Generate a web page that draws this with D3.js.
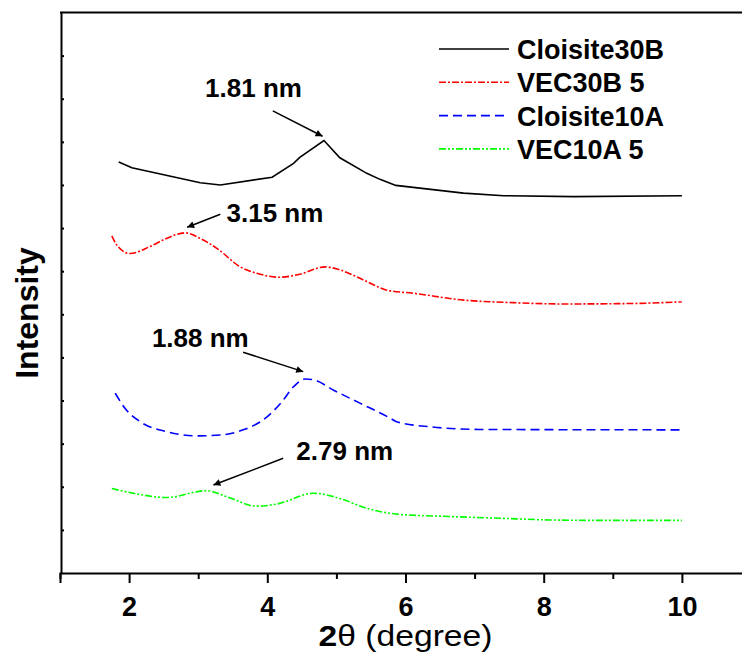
<!DOCTYPE html>
<html>
<head>
<meta charset="utf-8">
<script src="https://cdn.jsdelivr.net/npm/d3@7"></script>
<style>
  html, body { margin: 0; padding: 0; background: #fff; }
  svg { display: block; font-family: "Liberation Sans", Arial, sans-serif; }
</style>
</head>
<body>
<svg id="chart" width="742" height="653"></svg>
<script>
// ---- Data ----
const seriesNames = ["Cloisite30B", "VEC30B 5", "Cloisite10A", "VEC10A 5"];
const seriesColors = ["#000000", "#ff0000", "#0000ff", "#00ff00"];
const seriesDash = ["none", "7,2,2,2", "9,5", "7,2,2,2,2,2"];

const cloisite30B_x = [1.85, 2.04, 3.03, 3.32, 4.07, 4.38, 4.47, 4.82, 5.05, 5.44, 5.63, 5.86, 6.84, 7.42, 8.43, 10.0];
const cloisite30B_y = [9.53, 9.40, 9.05, 9.00, 9.18, 9.50, 9.64, 10.03, 9.63, 9.27, 9.13, 8.99, 8.81, 8.75, 8.73, 8.75];

const vec30B_x = [1.75, 1.82, 2.01, 2.30, 2.54, 2.81, 3.03, 3.27, 3.61, 3.85, 4.18, 4.47, 4.84, 5.05, 5.44, 5.73, 6.11, 6.84, 7.56, 8.28, 9.25, 10.0];
const vec30B_y = [7.82, 7.61, 7.41, 7.57, 7.76, 7.89, 7.76, 7.53, 7.10, 6.95, 6.86, 6.93, 7.10, 7.03, 6.76, 6.56, 6.49, 6.33, 6.27, 6.24, 6.25, 6.29];

const cloisite10A_x = [1.80, 1.94, 2.16, 2.54, 2.98, 3.32, 3.65, 3.94, 4.21, 4.38, 4.55, 4.67, 4.96, 5.34, 5.78, 5.87, 6.36, 7.08, 10.0];
const cloisite10A_y = [4.17, 3.82, 3.51, 3.28, 3.18, 3.20, 3.32, 3.55, 3.97, 4.32, 4.50, 4.48, 4.24, 3.94, 3.59, 3.51, 3.39, 3.33, 3.32];

const vec10A_x = [1.75, 2.06, 2.54, 3.12, 3.41, 3.85, 4.14, 4.67, 5.05, 5.44, 5.92, 6.64, 7.37, 8.09, 8.82, 10.0];
const vec10A_y = [1.96, 1.85, 1.75, 1.91, 1.77, 1.55, 1.60, 1.85, 1.73, 1.50, 1.36, 1.31, 1.27, 1.23, 1.22, 1.22];

const xMajorTicks = [2, 4, 6, 8, 10];
const xMinorTicks = [1, 3, 5, 7, 9, 11];
const yTicks = [1, 2, 3, 4, 5, 6, 7, 8, 9, 10, 11, 12];

// annotations: label, text anchor (x,y), arrow start (x,y), arrow tip (x,y)
const annLabels = ["1.81 nm", "3.15 nm", "1.88 nm", "2.79 nm"];
const annTextX = [3.10, 3.41, 2.33, 4.42];
const annTextY = [11.05, 8.14, 5.25, 2.62];
const annFromX = [4.08, 3.32, 3.65, 4.23];
const annFromY = [10.72, 8.32, 5.12, 2.66];
const annToX = [4.80, 2.84, 4.52, 3.22];
const annToY = [10.13, 8.02, 4.67, 2.04];

// ---- Build ----
const svg = d3.select("#chart");
const mLeft = 61, mTop = 12.5, mBottom = 573;
const x = d3.scaleLinear().domain([1, 11]).range([mLeft - 1, mLeft - 1 + 691]);
const y = d3.scaleLinear().domain([0, 13]).range([mBottom, mTop]);

const series = [
  { xs: cloisite30B_x, ys: cloisite30B_y },
  { xs: vec30B_x, ys: vec30B_y },
  { xs: cloisite10A_x, ys: cloisite10A_y },
  { xs: vec10A_x, ys: vec10A_y }
];

// top frame line
svg.append("line")
  .attr("x1", x(1)).attr("x2", x(11))
  .attr("y1", y(13)).attr("y2", y(13))
  .attr("stroke", "#000").attr("stroke-width", 2);

// x axis major
const gxMaj = svg.append("g").attr("transform", `translate(0,${mBottom})`)
  .call(d3.axisBottom(x).tickValues(xMajorTicks).tickSize(10).tickPadding(14).tickFormat(d3.format("d")));
gxMaj.select(".domain").attr("stroke-width", 2);
gxMaj.selectAll(".tick line").attr("stroke-width", 2);
gxMaj.selectAll(".tick text").attr("font-size", 27).attr("font-weight", "bold")
  .attr("font-family", "'Liberation Sans', Arial, sans-serif").attr("fill", "#000");

const gxMin = svg.append("g").attr("transform", `translate(0,${mBottom})`)
  .call(d3.axisBottom(x).tickValues(xMinorTicks).tickSize(6).tickFormat(""));
gxMin.select(".domain").remove();
gxMin.selectAll(".tick line").attr("stroke-width", 2);

// y axis (no labels, inward ticks)
const gy = svg.append("g").attr("transform", `translate(${mLeft},0)`)
  .call(d3.axisLeft(y).tickValues(yTicks).tickSize(-3).tickSizeOuter(0).tickFormat(""));
gy.select(".domain").attr("stroke-width", 2);
gy.selectAll(".tick line").attr("stroke-width", 2);

// lines
const line = d3.line().x(d => x(d[0])).y(d => y(d[1]));
series.forEach((s, i) => {
  const pts = s.xs.map((v, k) => [v, s.ys[k]]);
  svg.append("path")
    .attr("d", line.curve(i === 0 ? d3.curveLinear : d3.curveMonotoneX)(pts))
    .attr("fill", "none")
    .attr("stroke", seriesColors[i])
    .attr("stroke-width", 1.6)
    .attr("stroke-dasharray", seriesDash[i]);
});

// arrow marker
svg.append("defs").append("marker")
  .attr("id", "arrow").attr("viewBox", "0 0 10 10")
  .attr("refX", 10).attr("refY", 5)
  .attr("markerWidth", 11).attr("markerHeight", 7)
  .attr("markerUnits", "userSpaceOnUse")
  .attr("orient", "auto")
  .append("path").attr("d", "M0,0 L10,5 L0,10 Z").attr("fill", "#000");

// annotations
annLabels.forEach((lab, i) => {
  svg.append("text")
    .attr("x", x(annTextX[i])).attr("y", y(annTextY[i]))
    .attr("font-size", 26).attr("font-weight", "bold").attr("fill", "#000")
    .text(lab);
  svg.append("line")
    .attr("x1", x(annFromX[i])).attr("y1", y(annFromY[i]))
    .attr("x2", x(annToX[i])).attr("y2", y(annToY[i]))
    .attr("stroke", "#000").attr("stroke-width", 1.5)
    .attr("marker-end", "url(#arrow)");
});

// legend
const lg = svg.append("g");
seriesNames.forEach((name, i) => {
  const ly = 49 + i * 33.3;
  lg.append("line").attr("x1", 439).attr("x2", 509).attr("y1", ly).attr("y2", ly)
    .attr("stroke", seriesColors[i]).attr("stroke-width", 1.6)
    .attr("stroke-dasharray", seriesDash[i]);
  lg.append("text").attr("x", 517).attr("y", ly + 10)
    .attr("font-size", 27).attr("font-weight", "bold").attr("fill", "#000")
    .text(name);
});

// axis titles
const xt = svg.append("text")
  .attr("x", x(6)).attr("y", 646)
  .attr("text-anchor", "middle")
  .attr("font-size", 29).attr("fill", "#000")
  .attr("textLength", 174).attr("lengthAdjust", "spacingAndGlyphs");
xt.append("tspan").attr("font-weight", "bold").text("2");
xt.append("tspan").text("θ (degree)");

svg.append("text")
  .attr("transform", `translate(38,313) rotate(-90)`)
  .attr("text-anchor", "middle")
  .attr("font-size", 32).attr("font-weight", "bold").attr("fill", "#000")
  .text("Intensity");
</script>
</body>
</html>
